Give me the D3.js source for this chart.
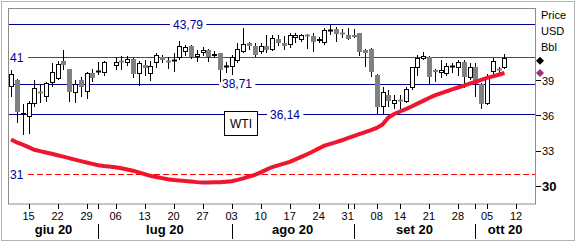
<!DOCTYPE html>
<head>
  <meta charset="utf-8">
  <script src="https://d3js.org/d3.v7.min.js"></script>
  <style>
    body { margin: 0; background: #fff; }
    text { font-family: "Liberation Sans", Arial, sans-serif; }
  </style>
</head>
<body>
<div id="chart"></div>
<script>
// trading sessions on the x axis (2020), one slot per day
var sessions = ["06-10","06-11","06-12","06-15","06-16","06-17","06-18","06-19","06-22","06-23","06-24","06-25","06-26","06-29","06-30",
  "07-01","07-02","07-03","07-06","07-07","07-08","07-09","07-10","07-13","07-14","07-15","07-16","07-17","07-20","07-21","07-22","07-23","07-24","07-27","07-28","07-29","07-30","07-31",
  "08-03","08-04","08-05","08-06","08-07","08-10","08-11","08-12","08-13","08-14","08-17","08-18","08-19","08-20","08-21","08-24","08-25","08-26","08-27","08-28","08-31",
  "09-01","09-02","09-03","09-04","09-08","09-09","09-10","09-11","09-14","09-15","09-16","09-17","09-18","09-21","09-22","09-23","09-24","09-25","09-28","09-29","09-30",
  "10-01","10-02","10-05","10-06","10-07","10-08","10-09","10-12"];

// WTI daily candles (null = no quote)
var open  = [38.47,39.07,36.10,35.91,37.05,38.05,37.62,38.82,39.16,40.70,40.01,37.96,39.07,38.05,39.67,39.75,39.70,null,40.27,40.70,40.53,40.87,39.59,40.35,39.59,40.53,41.04,40.70,40.70,40.95,41.50,41.98,41.04,41.38,41.64,41.15,41.38,40.20,40.18,40.70,41.47,42.23,41.98,41.47,41.98,41.64,42.62,42.25,42.10,42.70,42.50,42.90,42.80,42.40,42.25,43.35,43.45,43.05,42.95,42.90,43.05,41.64,41.72,39.50,36.77,37.80,37.02,37.36,37.19,38.39,40.10,40.90,41.04,39.90,39.67,39.59,40.20,40.10,40.61,39.25,40.18,38.75,37.05,39.76,40.05,40.10];
var high  = [39.93,39.15,37.02,37.25,39.07,38.73,38.90,40.53,40.70,41.64,40.05,39.07,39.33,39.76,40.01,40.61,40.70,null,41.04,41.12,41.12,40.95,40.70,40.78,40.70,41.38,41.21,41.04,41.38,42.40,42.06,42.06,41.64,41.89,41.72,41.55,41.40,40.65,41.21,42.23,43.52,42.35,42.23,42.23,42.92,42.92,42.95,42.82,43.09,43.09,43.00,43.00,43.09,42.75,43.55,43.78,43.60,43.45,43.55,43.45,43.10,41.72,41.80,39.55,38.50,38.25,37.80,37.80,38.50,40.20,41.20,41.50,41.12,40.01,40.78,40.53,40.53,40.78,40.78,40.53,40.50,38.85,39.55,40.95,40.20,41.30];
var low   = [37.62,35.40,34.37,34.45,36.77,37.11,37.19,38.47,39.07,39.93,37.19,37.11,37.62,37.45,38.90,39.50,39.40,null,39.93,39.90,40.23,39.25,38.60,39.45,39.00,40.10,40.53,40.01,39.76,40.78,41.12,40.87,40.65,41.12,40.65,40.95,38.71,39.65,39.50,40.53,41.38,41.64,41.04,41.30,41.40,41.55,41.95,41.64,41.85,42.25,42.35,41.70,41.45,42.25,42.10,42.90,42.30,42.65,42.50,42.70,41.15,40.20,39.33,36.13,36.20,36.80,36.60,36.60,37.11,38.22,39.40,40.75,38.65,38.92,39.25,39.42,39.67,39.40,38.39,39.07,37.60,36.63,36.95,39.50,39.40,40.00];
var close = [39.60,36.34,36.26,37.12,38.38,37.96,38.84,39.75,40.46,40.37,38.01,38.72,38.49,39.70,39.27,39.82,40.65,null,40.63,40.62,40.90,39.62,40.55,40.10,40.29,41.20,40.75,40.59,40.81,41.96,41.90,41.07,41.29,41.60,41.04,41.27,39.92,40.27,41.01,41.70,42.19,41.95,41.22,41.94,41.61,42.67,42.24,42.01,42.89,42.89,42.93,42.82,42.34,42.62,43.35,43.39,43.04,42.97,42.61,42.76,41.51,41.37,39.77,36.76,38.05,37.30,37.33,37.26,38.28,40.16,40.97,41.11,39.31,39.80,39.93,40.31,40.25,40.60,39.29,40.22,38.72,37.05,39.22,40.67,39.95,40.95];
// moving average (red line)
var avg   = [33.99,33.73,33.54,33.33,33.11,32.99,32.88,32.77,32.64,32.52,32.39,32.26,32.14,32.02,31.90,31.79,31.72,null,31.62,31.53,31.42,31.32,31.17,31.02,30.88,30.78,30.68,30.59,30.53,30.48,30.43,30.39,30.34,30.31,30.30,30.32,30.34,30.37,30.42,30.53,30.66,30.82,30.96,31.17,31.41,31.63,31.77,31.92,32.08,32.29,32.50,32.72,32.96,33.22,33.46,33.61,33.76,33.92,34.11,34.28,34.44,34.61,34.78,34.98,35.27,35.87,36.17,36.38,36.58,36.81,37.05,37.29,37.53,37.76,37.93,38.10,38.27,38.43,38.59,38.76,38.92,39.08,39.25,39.38,39.52,39.67];

var blueLevels = [43.79, 38.71, 36.14];
var blueLabels = ["43,79", "38,71", "36,14"];
var redLevels = [41, 31];
var redLabels = ["41", "31"];
var yTicks = [39, 36, 33, 30];
var weekTicks = ["06-15","06-22","06-29","07-06","07-13","07-20","07-27","08-03","08-10","08-17","08-24","08-31","09-08","09-14","09-21","09-28","10-05","10-12"];
var monthStarts = ["07-01","08-03","09-01","10-01"];
var monthNames = ["giu 20","lug 20","ago 20","set 20","ott 20"];
var lastMarks = [40.72, 39.67];
var unitLines = ["Price", "USD", "Bbl"];

(function() {
  var width = 577, height = 245;
  var pl = 8, pt = 8, pr = 535, pb = 204;

  var svg = d3.select("#chart").append("svg")
    .attr("width", width).attr("height", height);

  svg.append("rect").attr("x", 1.5).attr("y", 1.5).attr("width", 573).attr("height", 239)
    .attr("fill", "#fff").attr("stroke", "#b4b4b4");

  var x = d3.scaleLinear().domain([-0.36, 90.27]).range([9, 535]);
  var y = d3.scaleLinear().domain([28.47, 45.23]).range([204, 8]);
  function px(v) { return Math.floor(v) + 0.5 }

  svg.append("clipPath").attr("id", "plot").append("rect")
    .attr("x", pl + 1).attr("y", pt + 1).attr("width", pr - pl - 1).attr("height", pb - pt - 1);

  var plot = svg.append("g").attr("clip-path", "url(#plot)");

  // horizontal reference lines
  blueLevels.forEach(function(v) {
    plot.append("line").attr("x1", pl).attr("x2", pr)
      .attr("y1", px(y(v))).attr("y2", px(y(v)))
      .attr("stroke", "#000099");
  });
  redLevels.forEach(function(v, i) {
    plot.append("line").attr("x1", 28).attr("x2", pr)
      .attr("y1", px(y(v))).attr("y2", px(y(v)))
      .attr("stroke", "#ff0000")
      .attr("stroke-dasharray", i == 1 ? "6,3" : null);
    svg.append("text").attr("x", 10).attr("y", y(v)).attr("dy", "0.35em")
      .attr("font-size", 12).attr("fill", "#000099").text(redLabels[i]);
  });

  // candles
  var days = d3.range(open.length).filter(function(i) { return open[i] != null });
  days.forEach(function(i) {
    var cx = Math.round(x(i));
    var up = close[i] >= open[i];
    plot.append("line").attr("x1", cx + 0.5).attr("x2", cx + 0.5)
      .attr("y1", Math.round(y(high[i]))).attr("y2", Math.round(y(low[i])))
      .attr("stroke", "#000");
    var t = Math.round(y(Math.max(open[i], close[i])));
    var b = Math.round(y(Math.min(open[i], close[i])));
    if (b - t < 2) {
      plot.append("line").attr("x1", cx - 2).attr("x2", cx + 3)
        .attr("y1", t + 0.5).attr("y2", t + 0.5)
        .attr("stroke", up ? "#000" : "#808080").attr("stroke-width", 2);
    } else if (up) {
      plot.append("rect").attr("x", cx - 1.5).attr("y", t + 0.5)
        .attr("width", 4).attr("height", b - t - 1)
        .attr("fill", "#fff").attr("stroke", "#000");
    } else {
      plot.append("rect").attr("x", cx - 2).attr("y", t)
        .attr("width", 5).attr("height", b - t)
        .attr("fill", "#808080");
    }
  });

  // moving average
  var avgLine = d3.line()
    .x(function(i) { return x(i) })
    .y(function(i) { return y(avg[i]) });
  plot.append("path").datum(days).attr("d", avgLine)
    .attr("fill", "none").attr("stroke", "#ff1020").attr("stroke-width", 4);
  plot.append("path").datum(days).attr("d", avgLine)
    .attr("fill", "none").attr("stroke", "#7040a8").attr("stroke-width", 1)
    .attr("stroke-dasharray", "2,2").attr("opacity", 0.8);

  // value labels on the blue lines
  var labelX = [188, 237, 285];
  blueLevels.forEach(function(v, i) {
    var g = svg.append("g");
    var tx = g.append("text").attr("x", labelX[i]).attr("y", y(v)).attr("dy", "0.35em")
      .attr("text-anchor", "middle").attr("font-size", 12).attr("fill", "#000099")
      .text(blueLabels[i]);
    var bb = tx.node().getBBox();
    g.insert("rect", "text").attr("x", bb.x - 3).attr("y", y(v) - 2)
      .attr("width", bb.width + 6).attr("height", 4).attr("fill", "#fff");
  });

  // WTI box
  svg.append("rect").attr("x", 224.5).attr("y", 111.5).attr("width", 33).attr("height", 24)
    .attr("fill", "#fff").attr("stroke", "#000");
  svg.append("text").attr("x", 241).attr("y", 124).attr("dy", "0.35em")
    .attr("text-anchor", "middle").attr("font-size", 12).attr("fill", "#000").text("WTI");

  // frame
  svg.append("rect").attr("x", pl + 0.5).attr("y", pt + 0.5)
    .attr("width", pr - pl).attr("height", pb - pt - 0.5)
    .attr("fill", "none").attr("stroke", "#8c8c8c");

  // right axis
  yTicks.forEach(function(v, i) {
    var last = i == yTicks.length - 1;
    svg.append("line").attr("x1", pr + 1).attr("x2", pr + 6)
      .attr("y1", px(y(v))).attr("y2", px(y(v))).attr("stroke", "#000");
    svg.append("text").attr("x", pr + 7).attr("y", y(v)).attr("dy", "0.35em")
      .attr("font-size", last ? 13 : 11)
      .attr("font-weight", last ? "bold" : "normal")
      .text(v);
  });
  unitLines.forEach(function(s, i) {
    svg.append("text").attr("x", pr + 6).attr("y", 15 + i * 16).attr("dy", "0.35em")
      .attr("font-size", 11).text(s);
  });
  lastMarks.forEach(function(v, i) {
    svg.append("path").attr("d", "M0,-4L4,0L0,4L-4,0Z")
      .attr("transform", "translate(" + (pr + 5) + "," + y(v) + ")")
      .attr("fill", i == 0 ? "#000" : "#a0307e");
  });

  // bottom axis
  weekTicks.concat(monthStarts).forEach(function(d) {
    var xx = Math.round(x(sessions.indexOf(d))) + 0.5;
    svg.append("line").attr("x1", xx).attr("x2", xx).attr("y1", pb).attr("y2", pb + 5)
      .attr("stroke", "#000");
  });
  weekTicks.forEach(function(d) {
    svg.append("text").attr("x", x(sessions.indexOf(d))).attr("y", 216).attr("dy", "0.35em")
      .attr("text-anchor", "middle").attr("font-size", 11).text(d.slice(3));
  });
  var edges = [pl + 1].concat(monthStarts.map(function(d) { return x(sessions.indexOf(d)) }), [pr]);
  monthStarts.forEach(function(d) {
    var xx = Math.round(x(sessions.indexOf(d))) + 0.5;
    svg.append("line").attr("x1", xx).attr("x2", xx).attr("y1", 224).attr("y2", 239)
      .attr("stroke", "#000");
  });
  monthNames.forEach(function(m, i) {
    svg.append("text").attr("x", (edges[i] + edges[i + 1]) / 2).attr("y", 234)
      .attr("text-anchor", "middle").attr("font-size", 13).attr("font-weight", "bold")
      .text(m);
  });
})();
</script>
</body>
